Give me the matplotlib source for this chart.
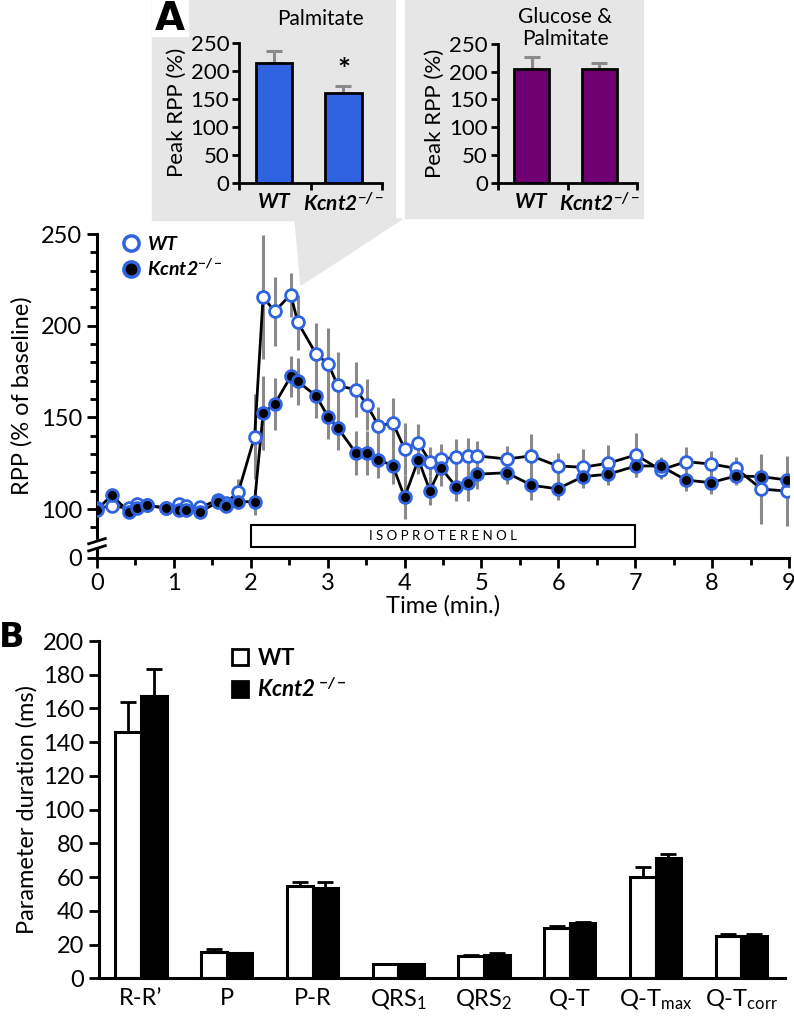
import matplotlib
matplotlib.use('Agg')
import matplotlib.pyplot as plt
import numpy as np
from matplotlib.patches import Rectangle, Polygon, Patch
from matplotlib.lines import Line2D

plt.rcParams['font.family'] = ['Lato', 'DejaVu Sans']
plt.rcParams['font.size'] = 17
plt.rcParams['mathtext.fontset'] = 'custom'
plt.rcParams['mathtext.rm'] = 'Lato'
plt.rcParams['mathtext.it'] = 'Lato:italic'
plt.rcParams['mathtext.bf'] = 'Lato:bold'
plt.rcParams['mathtext.sf'] = 'Lato:italic:bold'

# ---- data ----
# inset bars (peak RPP %)
groups = ['WT', 'Kcnt2']
palm_vals = [214, 161]
palm_err = [22, 12]
gp_vals = [205, 205]
gp_err = [22, 11]

# time course (RPP % of baseline)
t = [0.0, 0.19, 0.41, 0.52, 0.65, 0.90, 1.06, 1.16, 1.34, 1.58, 1.68, 1.84,
     2.05, 2.16, 2.31, 2.52, 2.61, 2.85, 3.01, 3.13, 3.37, 3.51, 3.66, 3.85,
     4.00, 4.18, 4.33, 4.47, 4.67, 4.83, 4.94, 5.33, 5.65, 5.99, 6.32, 6.65,
     7.01, 7.33, 7.66, 7.98, 8.31, 8.64, 8.98]
wt = [100.5, 101.6, 100.5, 103, 102, 100.5, 103, 101.6, 101, 105, 103.4, 109.5,
      139.5, 215.7, 207.8, 217, 202, 184.5, 179, 167.4, 165, 157, 145.4, 146.8,
      132.8, 136.2, 125.8, 127.3, 128.2, 129, 129, 127.3, 129, 123.5, 122.8, 125,
      129.5, 121.3, 125.8, 124.6, 122.2, 110.9, 109.8]
wt_err = [2, 2, 2, 2, 2, 2, 2, 2, 2, 3, 3, 7,
          23, 34, 19, 12, 15, 17, 20, 18, 15, 14, 10, 14,
          14, 10, 8, 8, 10, 10, 8, 7, 12, 7, 10, 10,
          12, 5, 8, 7, 6, 19, 19]
ko = [99.5, 107.6, 98.5, 100.5, 102, 100.5, 99.5, 99.5, 98.4, 104, 101.6, 104,
      104, 152.3, 157.2, 172.3, 169.6, 161.7, 150, 144.4, 130.4, 130.4, 127, 123.5,
      106.4, 127, 110, 122.6, 112.2, 114.4, 119, 119.8, 113, 111, 117.7, 119,
      123.5, 123.5, 115.8, 114.4, 118, 117.7, 115.8]
ko_err = [2, 2, 2, 2, 2, 2, 2, 2, 2, 3, 3, 4,
          7, 20, 14, 11, 13, 12, 12, 12, 12, 12, 10, 10,
          12, 8, 8, 10, 8, 10, 8, 6, 8, 6, 6, 6,
          6, 5, 6, 6, 5, 6, 6]
iso_start, iso_end = 2, 7

# ECG parameters (ms)
params = ['R-R\u2019', 'P', 'P-R', r'QRS$_1$', r'QRS$_2$', 'Q-T',
          r'Q-T$_{\mathrm{max}}$', r'Q-T$_{\mathrm{corr}}$']
b_wt = [146.2, 15.8, 54.8, 8.3, 13.2, 30.0, 59.9, 25.3]
b_wt_err = [17.4, 1.4, 2.3, 0.3, 0.4, 1.2, 6.3, 1.0]
b_ko = [167.5, 14.8, 53.8, 8.3, 13.8, 32.6, 71.6, 25.1]
b_ko_err = [16.1, 0.4, 3.2, 0.3, 1.0, 0.8, 2.0, 1.2]

kcnt = r'$\mathsf{Kcnt2}^{\mathsf{-/-}}$'
wt_lab = r'$\mathsf{WT}$'
blue = '#2f63e0'
purple = '#6f0072'
grey = '#8a8a8a'

fig = plt.figure(figsize=(7.94, 10.21), dpi=100)
W, H = 794.0, 1021.0

def fx(px):
    return px / W

def fy(py):
    return 1 - py / H

# grey backgrounds for insets + callout wedge
bg = '#e6e6e6'
fig.patches.append(Rectangle((fx(152), fy(220)), fx(395) - fx(152), fy(0) - fy(220),
                             transform=fig.transFigure, color=bg, zorder=-2))
fig.patches.append(Rectangle((fx(405), fy(218)), fx(643) - fx(405), fy(0) - fy(218),
                             transform=fig.transFigure, color=bg, zorder=-2))
fig.patches.append(Polygon([(fx(295), fy(219)), (fx(402), fy(219)), (fx(301), fy(285))],
                           closed=True, transform=fig.transFigure, color=bg, zorder=-2))
fig.patches.append(Rectangle((fx(152), fy(36)), fx(188) - fx(152), fy(0) - fy(36),
                             transform=fig.transFigure, color='white', zorder=-1))
fig.text(fx(170), fy(19), 'A', fontsize=28, fontweight='bold', ha='center', va='center',
         family='DejaVu Sans')


def inset(ax, vals, errs, color):
    x = np.arange(len(vals))
    ax.set_facecolor('none')
    ax.set_zorder(3)
    ax.bar(x, vals, width=0.52, color=color, edgecolor='black', linewidth=2, zorder=2)
    ax.errorbar(x, vals, yerr=[[0] * len(vals), errs], fmt='none', ecolor=grey,
                elinewidth=2.2, capsize=6, capthick=2.2, zorder=1)
    ax.set_xlim(-0.5, 1.55)
    ax.set_ylim(0, 250)
    ax.set_yticks([0, 50, 100, 150, 200, 250])
    ax.set_xticks(x)
    ax.set_xticklabels([wt_lab, kcnt], fontsize=15)
    ax.set_xticks([-0.5, 0.53, 1.55], minor=True)
    ax.tick_params(axis='x', which='major', length=0, pad=7)
    ax.tick_params(axis='x', which='minor', length=5, width=2, direction='out')
    ax.tick_params(axis='y', length=5, width=2, labelsize=16, pad=2)
    for s in ['top', 'right']:
        ax.spines[s].set_visible(False)
    for s in ['left', 'bottom']:
        ax.spines[s].set_linewidth(2)
    ax.set_ylabel('Peak RPP (%)', fontsize=16, labelpad=3)


ax1 = fig.add_axes([fx(239), fy(182.7), fx(381.7) - fx(239), fy(42.7) - fy(182.7)])
inset(ax1, palm_vals, palm_err, blue)
ax1.text(1, palm_vals[1] + palm_err[1] + 2, '*', ha='center', va='bottom',
         fontsize=22, fontweight='bold')
fig.text(fx(320), fy(19), 'Palmitate', fontsize=15, ha='center', va='center')

ax2 = fig.add_axes([fx(497.7), fy(182.7), fx(636.7) - fx(497.7), fy(44) - fy(182.7)])
inset(ax2, gp_vals, gp_err, purple)
fig.text(fx(565), fy(28), 'Glucose &\nPalmitate', fontsize=15, ha='center', va='center',
         linespacing=1.15)

# ---- main time course ----
y0 = 73.3  # position of the "0" tick below the axis break
ax = fig.add_axes([fx(97), fy(558), fx(789) - fx(97), fy(234) - fy(558)])
ax.set_zorder(2)
ax.set_facecolor('none')
ax.errorbar(t, wt, yerr=wt_err, fmt='none', ecolor=grey, elinewidth=2.2, zorder=1)
ax.errorbar(t, ko, yerr=ko_err, fmt='none', ecolor=grey, elinewidth=2.2, zorder=1)
ax.plot(t, wt, color='black', lw=2, zorder=2)
ax.plot(t, ko, color='black', lw=2, zorder=2)
ax.plot(t, wt, 'o', ms=8.5, mfc='white', mec=blue, mew=2, zorder=3)
ax.plot(t, ko, 'o', ms=8.5, mfc='black', mec=blue, mew=2, zorder=4)

ax.add_patch(Rectangle((iso_start, 79.3), iso_end - iso_start, 12, facecolor='white',
                       edgecolor='black', lw=1.5, zorder=2))
ax.text((iso_start + iso_end) / 2, 85.3, ' '.join('ISOPROTERENOL'), ha='center',
        va='center', fontsize=9.5)

ax.set_xlim(0, 9)
ax.set_ylim(y0, 250)
ax.set_xticks(range(10))
ax.set_xticks(np.arange(0.5, 9, 1), minor=True)
ax.set_yticks([y0, 100, 150, 200, 250])
ax.set_yticklabels(['0', '100', '150', '200', '250'])
ax.set_yticks([v for v in range(90, 250, 10) if v % 50], minor=True)
ax.tick_params(which='major', length=7, width=2, direction='out')
ax.tick_params(which='minor', length=5, width=2, direction='out')
for s in ['top', 'right']:
    ax.spines[s].set_visible(False)
for s in ['left', 'bottom']:
    ax.spines[s].set_linewidth(2.2)
ax.set_xlabel('Time (min.)', labelpad=1)
ax.set_ylabel('RPP (% of baseline)', labelpad=6)

# axis break marks
ax.add_patch(Rectangle((-0.02, 0.035), 0.04, 0.02, transform=ax.transAxes,
                       color='white', clip_on=False, zorder=5))
for yb in [0.030, 0.052]:
    ax.plot([-0.012, 0.012], [yb - 0.008, yb + 0.008], color='black', lw=2,
            transform=ax.transAxes, clip_on=False, zorder=6)

h_wt = Line2D([], [], ls='none', marker='o', ms=11, mfc='white', mec=blue, mew=2.5)
h_ko = Line2D([], [], ls='none', marker='o', ms=11, mfc='black', mec=blue, mew=2.5)
ax.legend([h_wt, h_ko], [wt_lab, kcnt], loc='upper left',
          bbox_to_anchor=(0.01, 1.05), frameon=False, fontsize=14,
          handlelength=1, handletextpad=0.3, labelspacing=0.2)

# ---- panel B ----
axb = fig.add_axes([fx(99), fy(978.3), fx(785) - fx(99), fy(641) - fy(978.3)])
xb = np.arange(len(params))
bw = 0.3
axb.bar(xb - bw / 2, b_wt, width=bw, color='white', edgecolor='black', lw=2.2, zorder=2)
axb.bar(xb + bw / 2, b_ko, width=bw, color='black', edgecolor='black', lw=2.2, zorder=2)
axb.errorbar(xb - bw / 2, b_wt, yerr=[[0] * len(b_wt), b_wt_err], fmt='none',
             ecolor='black', elinewidth=2, capsize=6, capthick=2, zorder=1)
axb.errorbar(xb + bw / 2, b_ko, yerr=[[0] * len(b_ko), b_ko_err], fmt='none',
             ecolor='black', elinewidth=2, capsize=6, capthick=2, zorder=1)
axb.set_xlim(-0.49, 7.51)
axb.set_ylim(0, 200)
axb.set_yticks(range(0, 201, 20))
axb.set_xticks(xb)
axb.set_xticklabels(params)
axb.tick_params(axis='x', length=0, pad=7)
axb.tick_params(axis='y', length=7, width=2, direction='out')
for s in ['top', 'right']:
    axb.spines[s].set_visible(False)
for s in ['left', 'bottom']:
    axb.spines[s].set_linewidth(2.2)
axb.set_ylabel('Parameter duration (ms)')
hb_wt = Patch(facecolor='white', edgecolor='black', lw=2)
hb_ko = Patch(facecolor='black', edgecolor='black', lw=2)
axb.legend([hb_wt, hb_ko], [r'$\mathbf{WT}$', r'$\mathsf{Kcnt2}^{\ \mathsf{-/-}}$'],
           loc='upper left', bbox_to_anchor=(0.165, 1.04), frameon=False, fontsize=16,
           handlelength=0.7, handleheight=0.7, handletextpad=0.4, labelspacing=0.4)
fig.text(fx(12), fy(637), 'B', fontsize=24, fontweight='bold', ha='center', va='center',
         family='DejaVu Sans')

fig.savefig('out.png', dpi=100)
